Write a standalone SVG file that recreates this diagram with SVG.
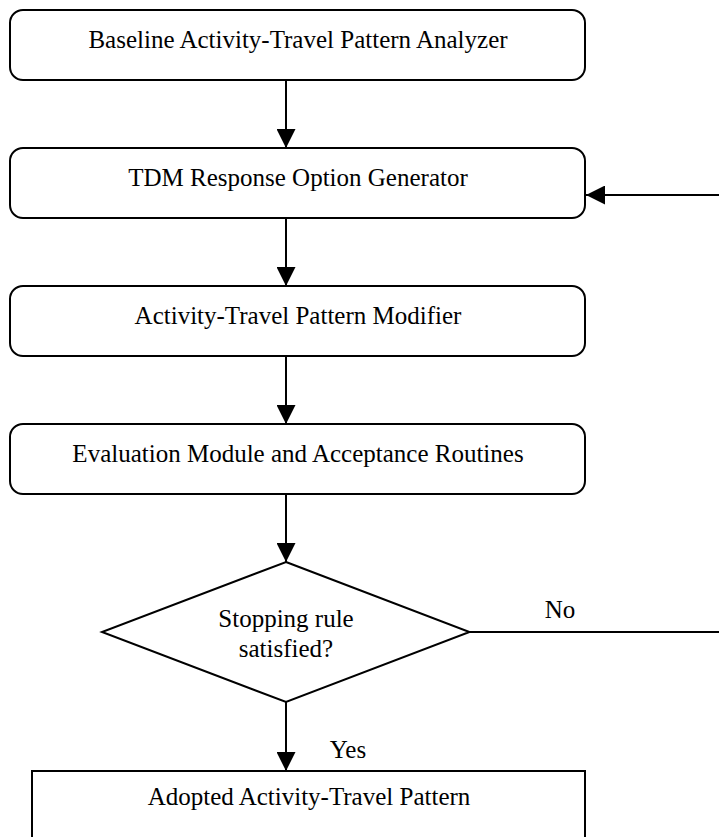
<svg xmlns="http://www.w3.org/2000/svg" width="719" height="837" viewBox="0 0 719 837">
<style>
.box{fill:#fff;stroke:#000;stroke-width:2}
.ln{fill:none;stroke:#000;stroke-width:2}
text{font-family:"Liberation Serif","Times New Roman",serif;font-size:25px;fill:#000;text-anchor:middle}
</style>
<defs>
<marker id="ah" markerWidth="19" markerHeight="19" refX="19" refY="9.5" orient="auto" markerUnits="userSpaceOnUse">
<path d="M0,0 L19,9.5 L0,19 Z" fill="#000"/>
</marker>
</defs>
<rect width="719" height="837" fill="#fff"/>
<g id="connectors">
<line class="ln" x1="286" y1="80" x2="286" y2="148" marker-end="url(#ah)"/>
<line class="ln" x1="286" y1="218" x2="286" y2="286" marker-end="url(#ah)"/>
<line class="ln" x1="286" y1="356" x2="286" y2="424" marker-end="url(#ah)"/>
<line class="ln" x1="286" y1="494" x2="286" y2="562" marker-end="url(#ah)"/>
<line class="ln" x1="286" y1="702" x2="286" y2="771" marker-end="url(#ah)"/>
<line class="ln" x1="719" y1="195" x2="586" y2="195" marker-end="url(#ah)"/>
<line class="ln" x1="469.5" y1="632" x2="719" y2="632"/>
<text x="560" y="618">No</text>
<text x="348" y="758">Yes</text>
</g>
<g id="n1">
<rect class="box" x="10" y="10" width="575" height="70" rx="13"/>
<text x="298" y="48">Baseline Activity-Travel Pattern Analyzer</text>
</g>
<g id="n2">
<rect class="box" x="10" y="148" width="575" height="70" rx="13"/>
<text x="298" y="186">TDM Response Option Generator</text>
</g>
<g id="n3">
<rect class="box" x="10" y="286" width="575" height="70" rx="13"/>
<text x="298" y="324">Activity-Travel Pattern Modifier</text>
</g>
<g id="n4">
<rect class="box" x="10" y="424" width="575" height="70" rx="13"/>
<text x="298" y="462">Evaluation Module and Acceptance Routines</text>
</g>
<g id="n5">
<polygon class="box" points="286,562 469.5,632 286,702 102,632"/>
<text x="286" y="627">Stopping rule</text>
<text x="286" y="657">satisfied?</text>
</g>
<g id="n6">
<rect class="box" x="32" y="771" width="553" height="80"/>
<text x="309" y="805">Adopted Activity-Travel Pattern</text>
</g>
</svg>
